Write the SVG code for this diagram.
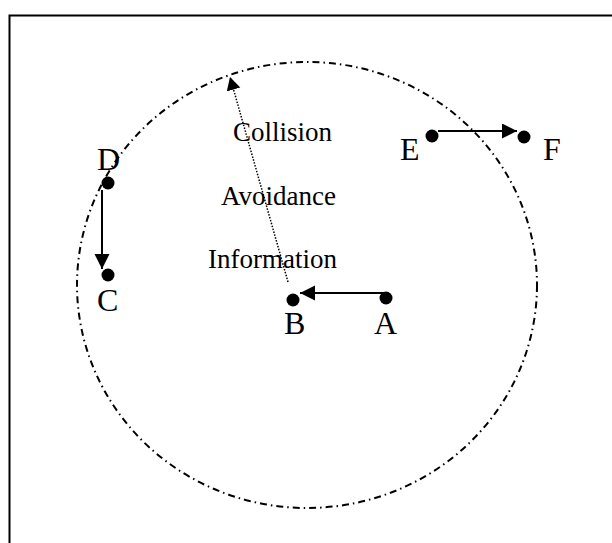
<svg xmlns="http://www.w3.org/2000/svg" width="612" height="543" viewBox="0 0 612 543">
<style>
.lbl{font-family:"Liberation Serif","Times New Roman",serif;font-size:32px;fill:#000}
.txt{font-family:"Liberation Serif","Times New Roman",serif;font-size:27px;fill:#000}
.dot{fill:#000}
.arr{stroke:#000;stroke-width:2;fill:none}
</style>
<defs>
<marker id="ah" markerUnits="userSpaceOnUse" markerWidth="16" markerHeight="16" refX="15" refY="7.5" orient="auto">
<path d="M0,0 L15,7.5 L0,15 Z" fill="#000"/>
</marker>
<marker id="ah2" markerUnits="userSpaceOnUse" markerWidth="14" markerHeight="16" refX="13" refY="7" orient="auto">
<path d="M0,0 L13,7 L0,14 Z" fill="#000"/>
</marker>
</defs>
<rect x="9.5" y="15.5" width="620" height="600" fill="#fff" stroke="#000" stroke-width="2"/>
<ellipse id="range" cx="307" cy="285" rx="230" ry="223" fill="none" stroke="#000" stroke-width="2" stroke-dasharray="7 4 1.5 4"/>
<g id="connectors">
<line class="arr" x1="102" y1="190" x2="102" y2="269" marker-end="url(#ah)"/>
<line class="arr" x1="438" y1="131" x2="517" y2="131" marker-end="url(#ah)"/>
<line class="arr" x1="386" y1="293" x2="300" y2="293" marker-end="url(#ah)"/>
<line x1="288" y1="282" x2="230" y2="77" stroke="#000" stroke-width="1.5" stroke-dasharray="1.5 1.5" marker-end="url(#ah2)"/>
</g>
<g id="nodeA"><circle class="dot" cx="386" cy="298" r="6.5"/><text class="lbl" x="374" y="334">A</text></g>
<g id="nodeB"><circle class="dot" cx="293" cy="300" r="6.5"/><text class="lbl" x="284" y="334">B</text></g>
<g id="nodeC"><circle class="dot" cx="108" cy="275" r="6.5"/><text class="lbl" x="97" y="311">C</text></g>
<g id="nodeD"><circle class="dot" cx="108" cy="183" r="6.5"/><text class="lbl" x="97" y="170">D</text></g>
<g id="nodeE"><circle class="dot" cx="432" cy="136" r="6.5"/><text class="lbl" x="400" y="160">E</text></g>
<g id="nodeF"><circle class="dot" cx="524" cy="137" r="6.5"/><text class="lbl" x="543" y="160">F</text></g>
<g id="label">
<text class="txt" x="233" y="141">Collision</text>
<text class="txt" x="221" y="205">Avoidance</text>
<text class="txt" x="208" y="268">Information</text>
</g>
</svg>
